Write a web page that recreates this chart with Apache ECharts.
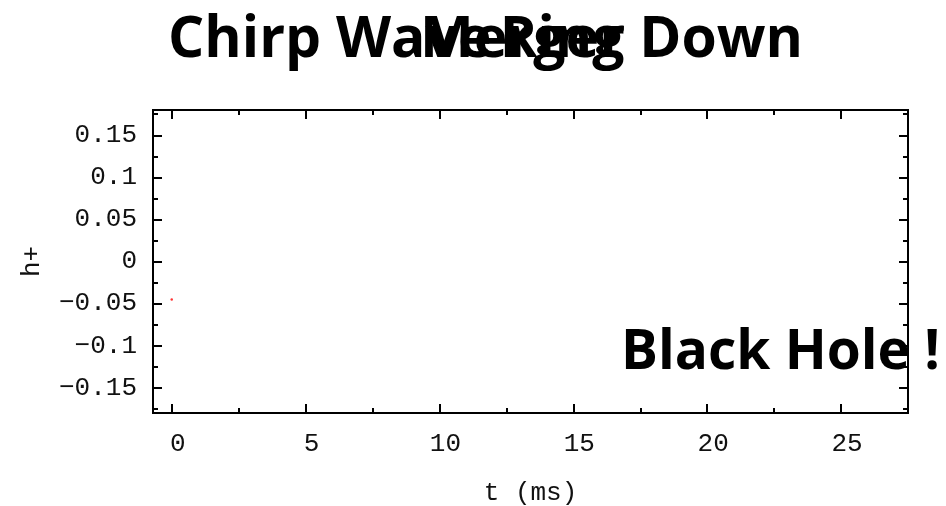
<!DOCTYPE html>
<html>
<head>
<meta charset="utf-8">
<script src="https://cdn.jsdelivr.net/npm/echarts@6/dist/echarts.min.js"></script>
<style>html,body{margin:0;padding:0;background:#fff}#c{width:946px;height:506px}</style>
</head>
<body>
<div id="c"></div>
<script>
// Data
var xMajorTicks = [0, 5, 10, 15, 20, 25];
var xMinorTicks = [2.5, 7.5, 12.5, 17.5, 22.5, 27.5];
var yMajorTicks = [-0.15, -0.1, -0.05, 0, 0.05, 0.1, 0.15];
var yMinorTicks = [-0.175, -0.125, -0.075, -0.025, 0.025, 0.075, 0.125, 0.175];
var seriesT = [0];
var seriesH = [-0.045];
var phaseTitles = ['Chirp Wave', 'Merger', 'Ring Down'];
var annotation = 'Black Hole !';

var X_MIN = -0.7, X_MAX = 27.5, Y_MIN = -0.18, Y_MAX = 0.18;
var mono = '"Liberation Mono", "DejaVu Sans Mono", monospace';
var bold = '"Open Sans", "Noto Sans", sans-serif';

function xAx(pos, ticks, len, labels, extra) {
  var a = {
    type: 'value', position: pos, min: X_MIN, max: X_MAX,
    axisLine: { show: true, onZero: false, lineStyle: { color: '#000', width: 2 } },
    axisTick: { show: true, inside: true, length: len, customValues: ticks, lineStyle: { color: '#000', width: 2 } },
    axisLabel: labels ? { show: true, customValues: ticks, margin: 18, fontFamily: mono, fontSize: 26, color: '#111', padding: [0, 0, 0, 12] } : { show: false },
    splitLine: { show: false }
  };
  return Object.assign(a, extra || {});
}
function yAx(pos, ticks, len, labels, extra) {
  var a = {
    type: 'value', position: pos, min: Y_MIN, max: Y_MAX,
    axisLine: { show: true, onZero: false, lineStyle: { color: '#000', width: 2 } },
    axisTick: { show: true, inside: true, length: len, customValues: ticks, lineStyle: { color: '#000', width: 2 } },
    axisLabel: labels ? { show: true, customValues: ticks, margin: 16, fontFamily: mono, fontSize: 26, color: '#111',
      formatter: function (v) { return String(v).replace('-', '\u2212'); } } : { show: false },
    splitLine: { show: false }
  };
  return Object.assign(a, extra || {});
}

var chart = echarts.init(document.getElementById('c'), null, { renderer: 'canvas' });
chart.setOption({
  animation: false,
  backgroundColor: '#fff',
  grid: { left: 153, right: 38, top: 110, bottom: 93, containLabel: false, outerBoundsMode: 'none' },
  xAxis: [
    xAx('bottom', xMajorTicks, 9, true, { name: 't (ms)', nameLocation: 'middle', nameGap: 67,
      nameTextStyle: { fontFamily: mono, fontSize: 26, color: '#111' } }),
    xAx('bottom', xMinorTicks, 5, false),
    xAx('top', xMajorTicks, 9, false),
    xAx('top', xMinorTicks, 5, false)
  ],
  yAxis: [
    yAx('left', yMajorTicks, 9, true, { name: 'h+', nameLocation: 'middle', nameGap: 108, nameRotate: 90,
      nameTextStyle: { fontFamily: mono, fontSize: 26, color: '#111' } }),
    yAx('left', yMinorTicks, 5, false),
    yAx('right', yMajorTicks, 9, false),
    yAx('right', yMinorTicks, 5, false)
  ],
  series: [{
    type: 'scatter', xAxisIndex: 0, yAxisIndex: 0,
    symbol: 'circle', symbolSize: 2.5,
    itemStyle: { color: '#ff0000' },
    data: seriesT.map(function (t, i) { return [t, seriesH[i]]; })
  }],
  graphic: [
    { type: 'text', left: 168, top: 12, z: 100, style: { text: phaseTitles[0], font: 'bold 57px ' + bold, fill: '#000' } },
    { type: 'text', left: 420, top: 12, z: 100, style: { text: phaseTitles[1], font: 'bold 57px ' + bold, fill: '#000' } },
    { type: 'text', right: 143, top: 12, z: 100, style: { text: phaseTitles[2], font: 'bold 57px ' + bold, fill: '#000' } },
    { type: 'text', left: 621, top: 326, z: 100, style: { text: annotation, font: 'bold 55px ' + bold, fill: '#000' } }
  ]
});
</script>
</body>
</html>
